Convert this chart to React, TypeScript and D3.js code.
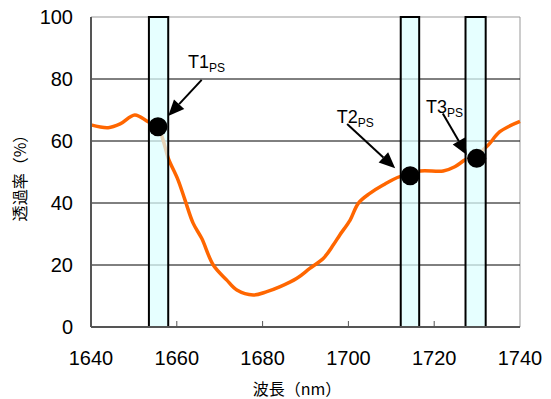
import React from "react";
import * as d3 from "d3";

const wavelengths = [1640, 1644, 1646.8, 1650.2, 1653.3, 1655.6, 1656.8, 1658, 1660.3, 1661.9, 1663.8, 1665.8, 1668.5, 1671.6, 1674, 1677.8, 1681, 1684.1, 1688, 1691, 1694.2, 1696.5, 1698, 1700.4, 1702.3, 1705, 1708.1, 1712, 1714.4, 1716.7, 1722.1, 1724.8, 1727.2, 1729.9, 1732.6, 1735.3, 1740];
const transmittance = [65.2, 64.3, 65.5, 68.4, 66.2, 64.5, 60.3, 54.5, 47.4, 41, 33.5, 28.6, 20, 15.2, 11.9, 10.3, 11.4, 13, 15.7, 18.9, 22.2, 26.5, 29.7, 34.5, 39.9, 43.1, 45.8, 48.5, 48.8, 50.3, 50.3, 51.7, 53.9, 55.5, 58.7, 63, 66.3];

const xTicks = [1640, 1660, 1680, 1700, 1720, 1740];
const yTicks = [0, 20, 40, 60, 80, 100];

const bandNames = ["T1", "T2", "T3"];
const bandStart = [1653.5, 1712.2, 1727.3];
const bandEnd = [1658, 1716.5, 1732];
const markerX = [1655.6, 1714.4, 1729.9];
const markerY = [64.6, 48.8, 54.4];
const labelX = [1662.6, 1697.3, 1718.1];
const labelY = [83.5, 65.8, 69.0];
const arrowFromX = [1665.8, 1699.7, 1722];
const arrowFromY = [79.7, 65.5, 68.9];
const arrowToX = [1658, 1710.9, 1727.6];
const arrowToY = [68.1, 51.2, 55.5];

const W = 551, H = 399;
const left = 91, right = 520, top = 17, bottom = 327;

export default function App() {
  const x = d3.scaleLinear().domain([1640, 1740]).range([left, right]);
  const y = d3.scaleLinear().domain([0, 100]).range([bottom, top]);
  const pts = wavelengths.map((w, i) => [w, transmittance[i]] as [number, number]);
  const line = d3.line<[number, number]>().x(d => x(d[0])).y(d => y(d[1])).curve(d3.curveCatmullRom.alpha(0.5));
  const font = "'Liberation Sans', Arial, sans-serif";
  const cjk = "'Noto Sans CJK JP', sans-serif";

  const arrowHead = (x1: number, y1: number, x2: number, y2: number) => {
    const ang = Math.atan2(y2 - y1, x2 - x1);
    const len = 16, half = 7;
    const bx = x2 - len * Math.cos(ang), by = y2 - len * Math.sin(ang);
    const px = -Math.sin(ang) * half, py = Math.cos(ang) * half;
    return { pts: `${x2},${y2} ${bx + px},${by + py} ${bx - px},${by - py}`, bx, by };
  };

  return (
    <svg width={W} height={H} style={{ position: "absolute", left: 0, top: 0, background: "#fff" }}>
      <line x1={left} x2={right} y1={top} y2={top} stroke="#999" strokeWidth={1} />
      <line x1={right} x2={right} y1={top} y2={bottom} stroke="#999" strokeWidth={1} />
      {yTicks.filter(t => t > 0 && t < 100).map(t => (
        <line key={t} x1={left} x2={right} y1={y(t)} y2={y(t)} stroke="#000" strokeWidth={1} />
      ))}
      <path d={line(pts) || ""} fill="none" stroke="#FF6600" strokeWidth={3.5} strokeLinejoin="round" />
      {bandNames.map((n, i) => (
        <rect key={n} x={x(bandStart[i])} y={y(100)} width={x(bandEnd[i]) - x(bandStart[i])} height={y(0) - y(100)}
          fill="#DDFFFF" fillOpacity={0.72} stroke="#000" strokeWidth={2} />
      ))}
      <line x1={left} x2={left} y1={top} y2={bottom} stroke="#555" strokeWidth={2} />
      <line x1={left} x2={right} y1={bottom} y2={bottom} stroke="#555" strokeWidth={2} />
      {xTicks.slice(1, -1).map(t => (
        <line key={t} x1={x(t)} x2={x(t)} y1={bottom} y2={bottom - 6} stroke="#555" strokeWidth={1} />
      ))}
      {bandNames.map((n, i) => (
        <circle key={n} cx={x(markerX[i])} cy={y(markerY[i])} r={9.5} fill="#000" />
      ))}
      {bandNames.map((n, i) => {
        const x1 = x(arrowFromX[i]), y1 = y(arrowFromY[i]), x2 = x(arrowToX[i]), y2 = y(arrowToY[i]);
        const ah = arrowHead(x1, y1, x2, y2);
        return (
          <g key={n}>
            <line x1={x1} y1={y1} x2={ah.bx} y2={ah.by} stroke="#000" strokeWidth={2} />
            <polygon points={ah.pts} fill="#000" />
            <text x={x(labelX[i])} y={y(labelY[i])} fontFamily={font} fontSize={18} fill="#000">
              {n}
              <tspan fontSize={12} dy={4}>PS</tspan>
            </text>
          </g>
        );
      })}
      {xTicks.map(t => (
        <text key={t} x={x(t)} y={365} textAnchor="middle" fontFamily={font} fontSize={20} fill="#000">{t}</text>
      ))}
      {yTicks.map(t => (
        <text key={t} x={73} y={y(t) + 7} textAnchor="end" fontFamily={font} fontSize={20} fill="#000">{t}</text>
      ))}
      <text x={297} y={395} textAnchor="middle" fontFamily={cjk} fontSize={16} fill="#000">波長（nm）</text>
      <text transform="translate(26,174) rotate(-90)" textAnchor="middle" fontFamily={cjk} fontSize={16} fill="#000">透過率（%）</text>
    </svg>
  );
}
